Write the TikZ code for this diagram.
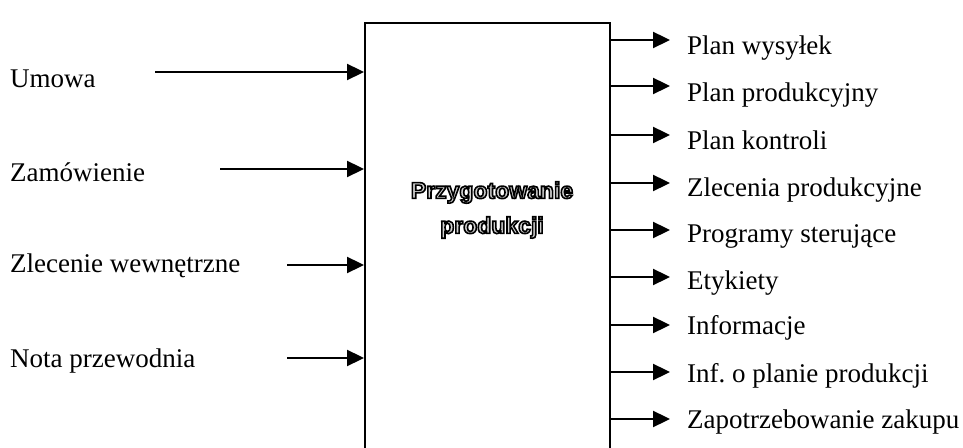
\documentclass[tikz,border=0pt]{standalone}
\usepackage{fontspec}
\setmainfont{Liberation Serif}
\newfontfamily\boxfont{Liberation Sans}
\usetikzlibrary{arrows.meta}
\frenchspacing

% outlined lettering: fill light grey, stroke black (PDF text render mode 2)
\newcommand\outlined[1]{%
  \textcolor{black!18}{\special{pdf:literal direct 2 Tr 1.6 w 0 G}#1\special{pdf:literal direct 0 Tr}}}

\tikzset{
  x=1pt, y=1pt,
  inlabel/.style={anchor=base west, inner sep=0pt, font=\fontsize{27}{29}\selectfont},
  outlabel/.style={anchor=base west, inner sep=0pt, font=\fontsize{27}{29}\selectfont},
  flow/.style={line width=2.3pt, -{Triangle[length=17pt,width=16pt]}},
  procbox/.style={draw, line width=2.3pt, anchor=north west, minimum width=245pt,
                  minimum height=440pt, inner sep=0pt},
}

\begin{document}
\begin{tikzpicture}
\useasboundingbox (0,0) rectangle (963,447);
\clip (0,0) rectangle (963,447);

% process block (open toward the bottom of the page)
\node[procbox] (box) at (364,425) {};
\node[align=center, font=\boxfont\bfseries\fontsize{23}{35}\selectfont] (title) at (492,237)
  {\outlined{Przygotowanie}\\ \outlined{produkcji}};

% inputs
\node[inlabel] (umowa) at (10,359) {Umowa};
\node[inlabel] (zam)   at (10,265) {Zamówienie};
\node[inlabel] (zlec)  at (10,174) {Zlecenie wewnętrzne};
\node[inlabel] (nota)  at (10,79)  {Nota przewodnia};

\coordinate (i1) at (155,375);
\coordinate (i2) at (220,278);
\coordinate (i3) at (287,182);
\coordinate (i4) at (287,89);

\draw[flow] (i1) -- (box.west |- i1);
\draw[flow] (i2) -- (box.west |- i2);
\draw[flow] (i3) -- (box.west |- i3);
\draw[flow] (i4) -- (box.west |- i4);

% outputs
\node[outlabel] (o1) at (687,392) {Plan wysyłek};
\node[outlabel] (o2) at (687,345) {Plan produkcyjny};
\node[outlabel] (o3) at (687,297) {Plan kontroli};
\node[outlabel] (o4) at (687,250) {Zlecenia produkcyjne};
\node[outlabel] (o5) at (687,204) {Programy sterujące};
\node[outlabel] (o6) at (687,157) {Etykiety};
\node[outlabel] (o7) at (687,112) {Informacje};
\node[outlabel] (o8) at (687,65)  {Inf. o planie produkcji};
\node[outlabel] (o9) at (687,19)  {Zapotrzebowanie zakupu};

\coordinate (e1) at (670,407);
\coordinate (e2) at (670,361);
\coordinate (e3) at (670,312);
\coordinate (e4) at (670,264);
\coordinate (e5) at (670,217);
\coordinate (e6) at (670,170);
\coordinate (e7) at (670,122);
\coordinate (e8) at (670,75);
\coordinate (e9) at (670,28);

\foreach \k in {1,...,9}
  \draw[flow] (box.east |- e\k) -- (e\k);
\end{tikzpicture}
\end{document}
